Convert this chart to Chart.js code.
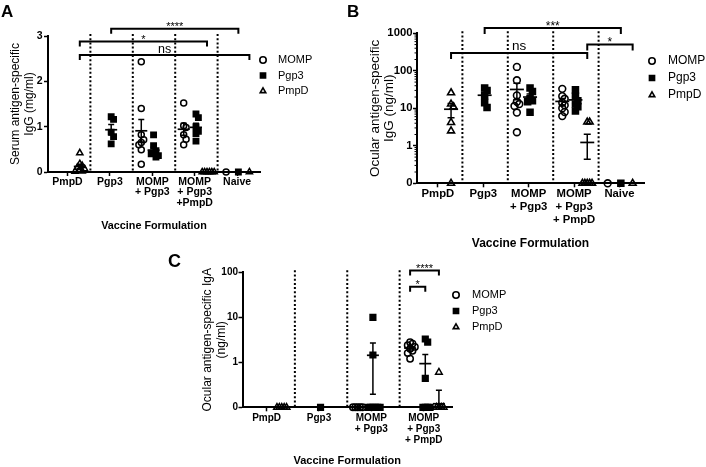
<!DOCTYPE html>
<html>
<head>
<meta charset="utf-8">
<script src="https://cdn.jsdelivr.net/npm/chart.js@4.4.1/dist/chart.umd.min.js"></script>
<style>
  html, body { margin: 0; padding: 0; background: #fff; }
  #wrap { position: relative; width: 706px; height: 467px; overflow: hidden; }
  #wrap canvas { position: absolute; left: 0; top: 0; }
  .tag { position: absolute; font-weight: bold; font-family: 'Liberation Sans', Arial, sans-serif; color: #000; }
</style>
</head>
<body>
<div id="wrap">
  <canvas id="chartA" width="706" height="467"></canvas>
  <canvas id="chartB" width="706" height="467"></canvas>
  <canvas id="chartC" width="706" height="467"></canvas>
  <div class="tag" style="left:1px;top:3px;font-size:17px;line-height:17px">A</div>
  <div class="tag" style="left:347px;top:3px;font-size:17px;line-height:17px">B</div>
  <div class="tag" style="left:168px;top:252px;font-size:18px;line-height:18px">C</div>
</div>
<script>
const antigens = ['MOMP', 'Pgp3', 'PmpD'];

// A - serum antigen-specific IgG (mg/ml), one list per vaccine group
const groupsA = ['PmpD', 'Pgp3', ['MOMP', '+ Pgp3'], ['MOMP', '+ Pgp3', '+PmpD'], 'Naive'];
const serumMOMP = [[], [], [2.43, 1.4, 0.82, 0.71, 0.65, 0.6, 0.49, 0.17], [1.52, 1.02, 0.98, 0.82, 0.72, 0.6], [0]];
const serumPgp3 = [[], [1.22, 1.16, 0.88, 0.78, 0.62], [0.82, 0.58, 0.47, 0.42, 0.4, 0.36, 0.33], [1.28, 1.2, 1.0, 0.9, 0.85, 0.68], [0]];
const serumPmpD = [[0.42, 0.18, 0.14, 0.1, 0.07, 0.04, 0.02, 0.01], [], [], [0, 0, 0, 0, 0, 0], [0]];
const yTicksA = [0, 1, 2, 3];

// B - ocular IgG (ng/ml); 0 sits on the floor of the log axis
const groupsB = ['PmpD', 'Pgp3', ['MOMP', '+ Pgp3'], ['MOMP', '+ Pgp3', '+ PmpD'], 'Naive'];
const iggMOMP = [[], [], [127, 56, 22, 15, 13, 11.5, 7.7, 2.3], [33, 21, 18, 14, 12, 10, 8, 6.2], [0]];
const iggPgp3 = [[], [35, 30, 22, 14, 10.5], [35, 28, 18, 16, 15, 7.8], [31, 21, 16, 13, 11, 8.5], [0]];
const iggPmpD = [[26, 13, 11, 4.2, 2.5, 0], [], [], [4.3, 4.3, 0, 0, 0, 0, 0], [0]];
const yTicksB = [0, 1, 10, 100, 1000];

// C - ocular IgA (ng/ml)
const groupsC = ['PmpD', 'Pgp3', ['MOMP', '+ Pgp3'], ['MOMP', '+ Pgp3', '+ PmpD']];
const igaMOMP = [[], [], [0, 0, 0, 0, 0], [2.8, 2.6, 2.4, 2.2, 2.0, 1.8, 1.6, 1.2]];
const igaPgp3 = [[], [0], [10, 1.45, 0, 0, 0, 0, 0, 0], [3.3, 2.8, 0.44, 0, 0, 0, 0]];
const igaPmpD = [[0, 0, 0, 0, 0], [], [], [0.6, 0, 0, 0, 0]];
const yTicksC = [0, 1, 10, 100];

// significance brackets: [group, antigen] to [group, antigen], drawn at axis value "at"
const sigA = [
  { from: [1, 1], to: [4, 1], at: 3.16, text: '****' },
  { from: [0, 2], to: [3, 2], at: 2.88, text: '*' },
  { from: [0, 2], to: [4, 2], at: 2.58, text: 'ns' }
];
const sigB = [
  { from: [1, 1], to: [4, 1], at: 1380, text: '***' },
  { from: [3, 2], to: [4, 2], at: 500, text: '*' },
  { from: [0, 2], to: [3, 2], at: 300, text: 'ns' }
];
const sigC = [
  { from: [3, 0], to: [3, 2], at: 109, text: '****' },
  { from: [3, 0], to: [3, 1], at: 48, text: '*' }
];

const FONT = "'Liberation Sans', Arial, Helvetica, sans-serif";
const SUB = [0.2, 0.49, 0.75];   // where each antigen column sits inside its group
const LABEL_AT = 0.46;
const looks = [
  { style: 'circle', fill: 'rgba(0,0,0,0)' },
  { style: 'rect', fill: '#000' },
  { style: 'triangle', fill: 'rgba(0,0,0,0)' }
];

const panels = [
  {
    id: 'chartA', groups: groupsA, series: [serumMOMP, serumPgp3, serumPmpD], yTicks: yTicksA, sig: sigA,
    log: false, yMax: 3, area: { left: 48, right: 260, top: 36, bottom: 172 },
    yTitle: ['Serum antigen-specific', 'IgG (mg/ml)'], yTitleSize: 12, yTitleLH: 1.17, yTitleX: 15.5, yPad: 0,
    tickSize: 10.5, tickLH: 1.0, tickPad: 0.5, yTickPad: 1.5,
    xTitleSize: 10.8, xTitleY: 226,
    radius: [3, 3.8, 3.6], border: 1.5, meanHalf: 6, cap: 3,
    legend: { x: 263, y: 60, gap: 15.5, dx: 15, size: 11 }, sigSize: 11, sigTick: 5
  },
  {
    id: 'chartB', groups: groupsB, series: [iggMOMP, iggPgp3, iggPmpD], yTicks: yTicksB, sig: sigB,
    log: true, yMax: 1000, minor: true, area: { left: 417, right: 644, top: 33.3, bottom: 183.3 },
    yTitle: ['Ocular antigen-specific', 'IgG (ng/ml)'], yTitleSize: 13.5, yTitleLH: 1.06, yTitleX: 375, yPad: 360,
    tickSize: 11.3, tickLH: 1.15, tickPad: 0, yTickPad: 0.5,
    xTitleSize: 12, xTitleY: 244,
    radius: [3.4, 4.2, 4], border: 1.6, meanHalf: 7, cap: 3.5,
    legend: { x: 652, y: 61, gap: 17, dx: 16, size: 12 }, sigSize: 12, sigTick: 6
  },
  {
    id: 'chartC', groups: groupsC, series: [igaMOMP, igaPgp3, igaPmpD], yTicks: yTicksC, sig: sigC,
    log: true, yMax: 100, area: { left: 242.5, right: 452, top: 272.3, bottom: 407.3 },
    yTitle: ['Ocular antigen-specific IgA', '(ng/ml)'], yTitleSize: 12, yTitleLH: 1.14, yTitleX: 208, yPad: 195,
    tickSize: 10, tickLH: 1.12, tickPad: 1.2, yTickPad: 0.5,
    xTitleSize: 11, xTitleY: 461,
    radius: [3.2, 4, 3.8], border: 1.5, meanHalf: 6, cap: 3,
    legend: { x: 456, y: 295, gap: 16, dx: 16, size: 11 }, sigSize: 11, sigTick: 5
  }
];

// spread points that would overlap sideways, like a column scatter
function spreadColumn(values, toPx, unitPx) {
  const stepX = 2.4, nearY = 5;
  const placed = [];
  return values.map(v => {
    const py = toPx(v);
    let off = 0;
    for (let k = 0; k < 60; k++) {
      const o = (k % 2 ? 1 : -1) * Math.ceil(k / 2) * stepX;
      if (placed.every(p => Math.abs(p.py - py) >= nearY || Math.abs(p.o - o) >= stepX - 0.01)) { off = o; break; }
    }
    placed.push({ py, o: off });
    return off / unitPx;
  });
}

function drawMarker(ctx, style, r, x, y) {
  ctx.beginPath();
  if (style === 'circle') {
    ctx.arc(x, y, r, 0, Math.PI * 2);
  } else if (style === 'rect') {
    const s = r * Math.SQRT1_2;
    ctx.rect(x - s, y - s, 2 * s, 2 * s);
  } else {
    ctx.moveTo(x, y - r);
    ctx.lineTo(x + r * 0.866, y + r * 0.5);
    ctx.lineTo(x - r * 0.866, y + r * 0.5);
    ctx.closePath();
  }
  ctx.fill();
  ctx.stroke();
}

function makeChart(cfg) {
  const a = cfg.area;
  const nG = cfg.groups.length;
  const unitPx = (a.right - a.left) / nG;
  const floor = cfg.log ? 0.1 : 0;
  const plotH = a.bottom - a.top;
  const yPx = cfg.log
    ? v => Math.log10(Math.max(v, floor) / floor) * plotH / Math.log10(cfg.yMax / floor)
    : v => v * plotH / cfg.yMax;

  const datasets = cfg.series.map((groups, s) => {
    const data = [];
    groups.forEach((vals, g) => {
      const offs = spreadColumn(vals, yPx, unitPx);
      vals.forEach((v, k) => data.push({ x: g + SUB[s] + offs[k], y: Math.max(v, floor) }));
    });
    return {
      label: antigens[s], data, clip: false, showLine: false,
      pointStyle: looks[s].style, pointRadius: cfg.radius[s], pointHoverRadius: cfg.radius[s],
      pointBackgroundColor: looks[s].fill, pointBorderColor: '#000', pointBorderWidth: cfg.border
    };
  });

  const decor = {
    id: 'decor',
    beforeDatasetsDraw(chart) {
      const { ctx, chartArea: ca, scales: { x, y } } = chart;
      ctx.save();
      ctx.strokeStyle = '#000';
      ctx.lineWidth = 2;
      ctx.setLineDash([2, 2.2]);
      for (let g = 1; g < nG; g++) {
        const px = x.getPixelForValue(g);
        ctx.beginPath();
        ctx.moveTo(px, ca.top - 2);
        ctx.lineTo(px, ca.bottom);
        ctx.stroke();
      }
      ctx.setLineDash([]);
      if (cfg.minor) {
        ctx.lineWidth = 1;
        for (let d = floor; d < cfg.yMax; d *= 10) {
          for (let m = 2; m < 10; m++) {
            const py = y.getPixelForValue(d * m);
            ctx.beginPath();
            ctx.moveTo(ca.left, py);
            ctx.lineTo(ca.left - 2.5, py);
            ctx.stroke();
          }
        }
      }
      ctx.restore();
    },
    afterDatasetsDraw(chart) {
      const { ctx, scales: { x, y } } = chart;
      const py = v => y.getPixelForValue(Math.max(v, floor));
      ctx.save();
      ctx.strokeStyle = '#000';
      ctx.fillStyle = '#000';

      // mean and SEM
      cfg.series.forEach((groups, s) => groups.forEach((vals, g) => {
        const n = vals.length;
        if (n < 2) return;
        const mean = vals.reduce((p, q) => p + q, 0) / n;
        const sd = Math.sqrt(vals.reduce((p, q) => p + (q - mean) ** 2, 0) / (n - 1));
        const sem = sd / Math.sqrt(n);
        const cx = x.getPixelForValue(g + SUB[s]);
        const pm = py(mean), pt = py(mean + sem), pb = py(mean - sem);
        ctx.lineWidth = 1.7;
        ctx.beginPath();
        ctx.moveTo(cx - cfg.meanHalf, pm); ctx.lineTo(cx + cfg.meanHalf, pm);
        ctx.stroke();
        ctx.lineWidth = 1.5;
        ctx.beginPath();
        ctx.moveTo(cx, pt); ctx.lineTo(cx, pb);
        ctx.moveTo(cx - cfg.cap, pt); ctx.lineTo(cx + cfg.cap, pt);
        ctx.moveTo(cx - cfg.cap, pb); ctx.lineTo(cx + cfg.cap, pb);
        ctx.stroke();
      }));

      // significance brackets
      ctx.lineWidth = 2;
      ctx.textAlign = 'center';
      ctx.textBaseline = 'alphabetic';
      cfg.sig.forEach(b => {
        const x1 = x.getPixelForValue(b.from[0] + SUB[b.from[1]]);
        const x2 = x.getPixelForValue(b.to[0] + SUB[b.to[1]]);
        const yy = y.getPixelForValue(b.at);
        ctx.beginPath();
        ctx.moveTo(x1, yy + cfg.sigTick); ctx.lineTo(x1, yy);
        ctx.lineTo(x2, yy); ctx.lineTo(x2, yy + cfg.sigTick);
        ctx.stroke();
        const ns = b.text === 'ns';
        ctx.font = (ns ? cfg.sigSize + 1.5 : cfg.sigSize) + 'px ' + FONT;
        ctx.fillText(b.text, (x1 + x2) / 2, ns ? yy - 2.5 : yy + 1.5);
      });

      // legend
      ctx.lineWidth = 1.6;
      ctx.textAlign = 'left';
      ctx.textBaseline = 'middle';
      ctx.font = cfg.legend.size + 'px ' + FONT;
      antigens.forEach((name, s) => {
        const ly = cfg.legend.y + s * cfg.legend.gap;
        ctx.fillStyle = looks[s].fill;
        drawMarker(ctx, looks[s].style, s === 1 ? 3.6 : 3.2, cfg.legend.x, ly);
        ctx.fillStyle = '#000';
        ctx.fillText(name, cfg.legend.x + cfg.legend.dx, ly);
      });
      ctx.restore();
    }
  };

  const xScaleBottom = cfg.xTitleY + cfg.xTitleSize / 2;
  const yTitleLH = cfg.yTitleSize * cfg.yTitleLH;

  return new Chart(document.getElementById(cfg.id), {
    type: 'scatter',
    data: { datasets },
    plugins: [decor],
    options: {
      responsive: false,
      animation: false,
      events: [],
      layout: { padding: { left: cfg.yPad, top: a.top, right: 706 - a.right, bottom: 467 - xScaleBottom } },
      plugins: { legend: { display: false }, tooltip: { enabled: false } },
      scales: {
        x: {
          type: 'linear', min: 0, max: nG, position: 'bottom',
          afterBuildTicks: s => { s.ticks = cfg.groups.map((g, i) => ({ value: i + LABEL_AT })); },
          afterFit: s => { s.height = xScaleBottom - a.bottom; },
          ticks: {
            autoSkip: false, maxRotation: 0, minRotation: 0, padding: cfg.tickPad, color: '#000',
            font: { family: FONT, size: cfg.tickSize, weight: 'bold', lineHeight: cfg.tickLH },
            callback: (v, i) => cfg.groups[i]
          },
          grid: { drawOnChartArea: false, drawTicks: true, tickLength: 4, tickColor: '#000', tickWidth: 1.5 },
          border: { color: '#000', width: 2 },
          title: {
            display: true, text: 'Vaccine Formulation', color: '#000', padding: 0,
            font: { family: FONT, size: cfg.xTitleSize, weight: 'bold', lineHeight: 1 }
          }
        },
        y: {
          type: cfg.log ? 'logarithmic' : 'linear', min: floor, max: cfg.yMax,
          afterBuildTicks: s => { s.ticks = cfg.yTicks.map(v => ({ value: Math.max(v, floor) })); },
          afterFit: s => { s.width = a.left - cfg.yPad; },
          ticks: {
            color: '#000', padding: cfg.yTickPad,
            font: { family: FONT, size: cfg.tickSize, weight: 'bold' },
            callback: v => (v <= floor ? '0' : String(v))
          },
          grid: { drawOnChartArea: false, drawTicks: true, tickLength: 4, tickColor: '#000', tickWidth: 1.5 },
          border: { color: '#000', width: 2 },
          title: {
            display: true, text: cfg.yTitle, color: '#000',
            padding: { top: cfg.yTitleX - cfg.yPad - yTitleLH / 2, bottom: 0 },
            font: { family: FONT, size: cfg.yTitleSize, lineHeight: cfg.yTitleLH }
          }
        }
      }
    }
  });
}

panels.forEach(makeChart);
</script>
</body>
</html>
